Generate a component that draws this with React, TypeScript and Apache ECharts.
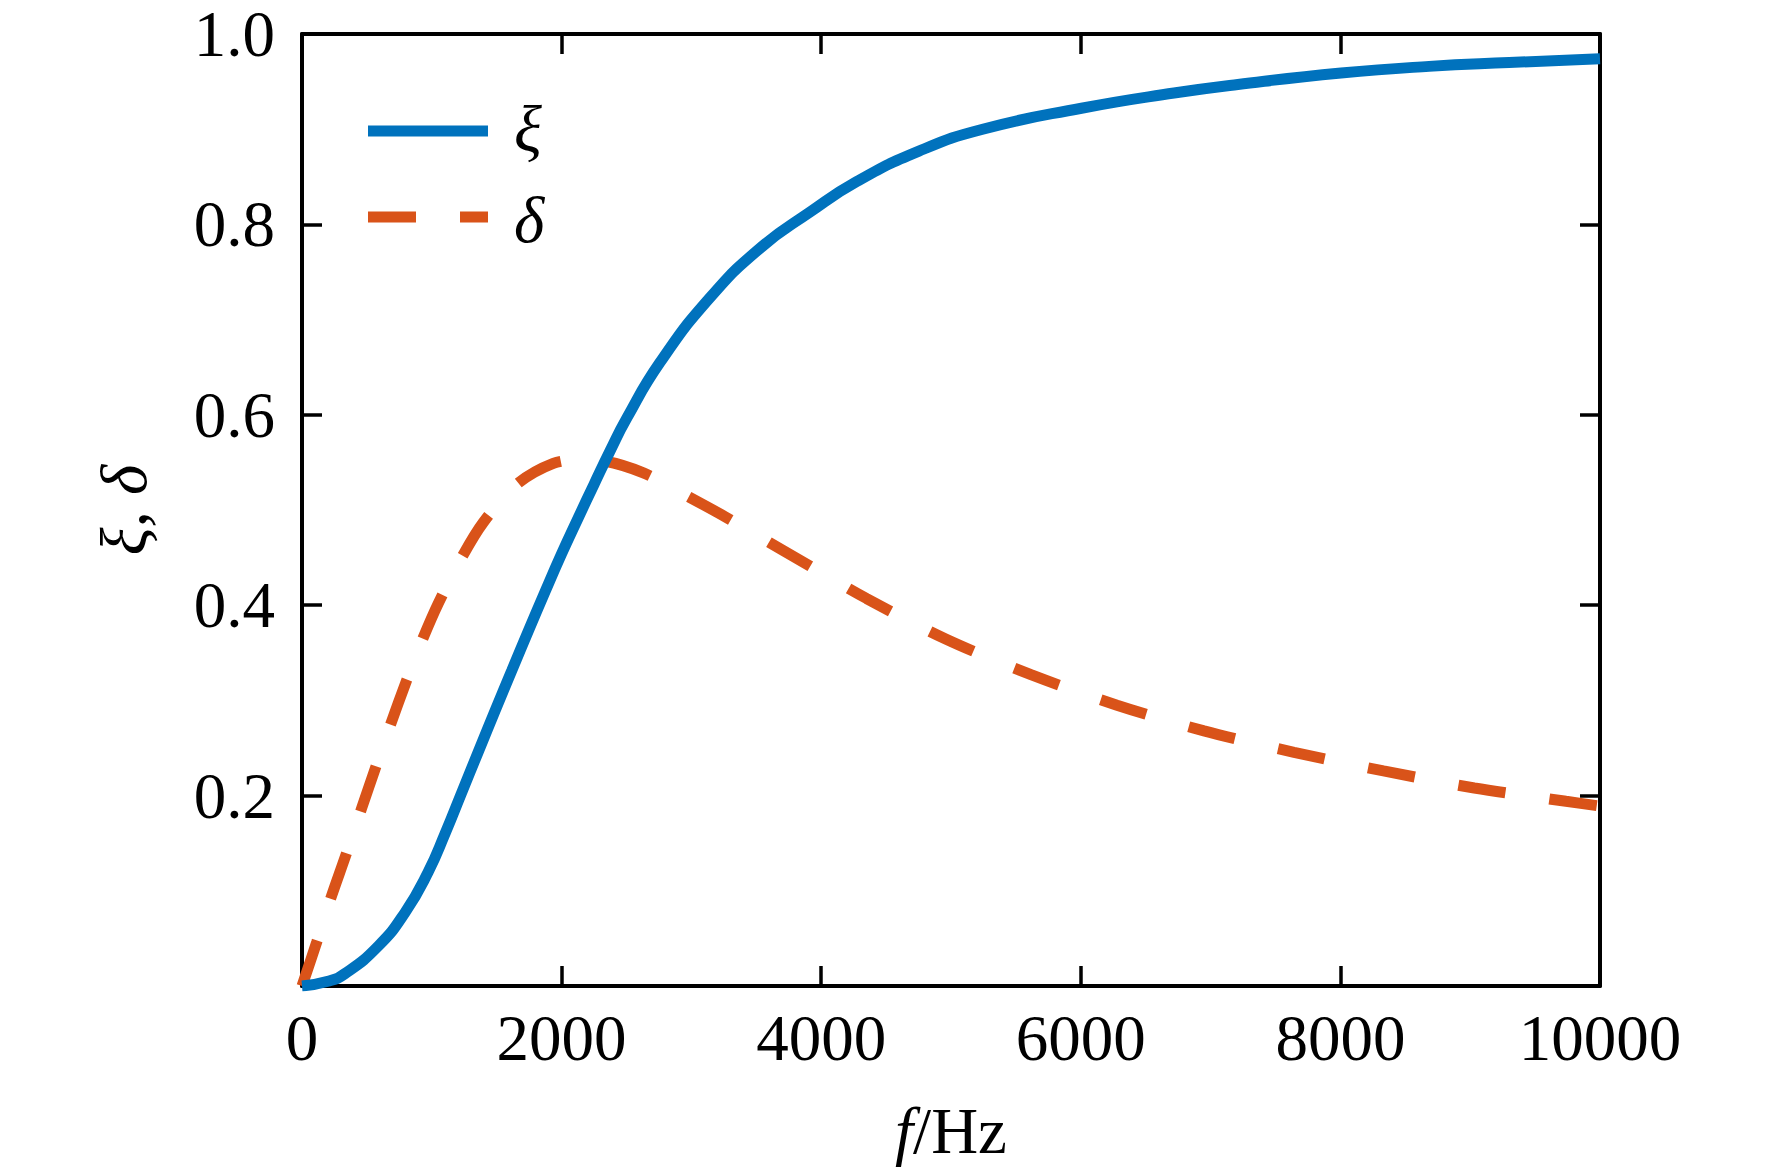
import React, { useEffect, useRef } from 'react';
import * as echarts from 'echarts';

// ξ (xi) curve: frequency (Hz) and value
const xiFreq = [0, 200, 331, 588, 793, 973, 1102, 1230, 1358, 1487, 1615, 1744, 1872, 2000, 2129, 2250, 2373, 2500, 2758, 3143, 3529, 3914, 4274, 4753, 5244, 6005, 6718, 7210, 8005, 8683, 9300, 10000];
const xiVal = [0, 0.005, 0.013, 0.042, 0.077, 0.120, 0.160, 0.203, 0.246, 0.289, 0.331, 0.373, 0.414, 0.454, 0.492, 0.527, 0.562, 0.596, 0.655, 0.723, 0.775, 0.813, 0.845, 0.877, 0.900, 0.922, 0.938, 0.947, 0.959, 0.966, 0.970, 0.974];

// δ (delta) curve: frequency (Hz) and value
const deltaFreq = [0, 113, 216, 344, 460, 563, 678, 806, 922, 1050, 1230, 1397, 1654, 1936, 2150, 2308, 2630, 2950, 3259, 3700, 4350, 4959, 5616, 6279, 6949, 7643, 8332, 9032, 9738, 10000];
const deltaVal = [0, 0.046, 0.090, 0.140, 0.187, 0.228, 0.273, 0.321, 0.362, 0.402, 0.450, 0.487, 0.527, 0.549, 0.553, 0.552, 0.539, 0.516, 0.493, 0.458, 0.407, 0.3645, 0.327, 0.295, 0.268, 0.2455, 0.226, 0.208, 0.194, 0.189];

const xMin = 0;
const xMax = 10000;
const xStep = 2000;
const yMin = 0;
const yMax = 1;
const yStep = 0.2;

const seriesNames = ['ξ', 'δ'];
const xName = '{i|f}/Hz';
const yName = 'ξ, δ';

const FONT = "'Liberation Serif', 'Times New Roman', serif";
const BLUE = '#0072BD';
const ORANGE = '#D95319';

export default function App() {
  const ref = useRef<HTMLDivElement>(null);

  useEffect(() => {
    document.body.style.margin = '0';
    const chart = echarts.init(ref.current as HTMLDivElement, undefined, { renderer: 'svg' });

    const axisBase = {
      type: 'value' as const,
      axisLine: { show: true, onZero: false, lineStyle: { color: '#000', width: 4 } },
      axisTick: { show: true, inside: true, length: 20, lineStyle: { color: '#000', width: 3.5 } },
      splitLine: { show: false },
    };
    const labelStyle = { fontFamily: FONT, fontSize: 65, color: '#000' };

    const option = {
      animation: false,
      backgroundColor: '#ffffff',
      grid: { left: 302, top: 34, right: 172, bottom: 187, containLabel: false },
      xAxis: [
        {
          ...axisBase,
          position: 'bottom',
          min: xMin,
          max: xMax,
          interval: xStep,
          axisLabel: { ...labelStyle, margin: 19, showMinLabel: true, showMaxLabel: true, formatter: (v: number) => String(v) },
          name: xName,
          nameLocation: 'middle',
          nameGap: 112,
          nameTextStyle: {
            ...labelStyle,
            rich: { i: { ...labelStyle, fontStyle: 'italic' } },
          },
        },
        {
          ...axisBase,
          position: 'top',
          min: xMin,
          max: xMax,
          interval: xStep,
          axisLabel: { show: false },
        },
      ],
      yAxis: [
        {
          ...axisBase,
          position: 'left',
          min: yMin,
          max: yMax,
          interval: yStep,
          axisLabel: {
            ...labelStyle,
            lineHeight: 54,
            margin: 27,
            showMaxLabel: true,
            formatter: (v: number) => (Math.abs(v) < 1e-9 ? '' : v.toFixed(1)),
          },
          name: yName,
          nameLocation: 'middle',
          nameGap: 146,
          nameRotate: 90,
          nameTextStyle: { ...labelStyle, fontStyle: 'italic' },
        },
        {
          ...axisBase,
          position: 'right',
          min: yMin,
          max: yMax,
          interval: yStep,
          axisLabel: { show: false },
        },
      ],
      series: [
        {
          name: seriesNames[0],
          type: 'line',
          data: xiFreq.map((f, i) => [f, xiVal[i]]),
          showSymbol: false,
          symbol: 'none',
          smooth: 0.5,
          lineStyle: { color: BLUE, width: 11, type: 'solid' },
          z: 3,
        },
        {
          name: seriesNames[1],
          type: 'line',
          data: deltaFreq.map((f, i) => [f, deltaVal[i]]),
          showSymbol: false,
          symbol: 'none',
          smooth: 0.3,
          lineStyle: { color: ORANGE, width: 11, type: [48, 44], cap: 'butt' },
          z: 2,
        },
      ],
      graphic: [
        {
          type: 'line',
          shape: { x1: 368, y1: 131, x2: 488, y2: 131 },
          style: { stroke: BLUE, lineWidth: 11 },
        },
        {
          type: 'line',
          shape: { x1: 368, y1: 217, x2: 488, y2: 217 },
          style: { stroke: ORANGE, lineWidth: 11, lineDash: [48, 44] },
        },
        {
          type: 'text',
          x: 514,
          y: 129,
          style: { text: seriesNames[0], fontFamily: FONT, fontSize: 65, fontStyle: 'italic', fill: '#000', verticalAlign: 'middle', align: 'left' },
        },
        {
          type: 'text',
          x: 514,
          y: 220,
          style: { text: seriesNames[1], fontFamily: FONT, fontSize: 65, fontStyle: 'italic', fill: '#000', verticalAlign: 'middle', align: 'left' },
        },
      ],
    };

    chart.setOption(option as any);
    return () => chart.dispose();
  }, []);

  return (
    <div
      ref={ref}
      style={{ position: 'fixed', left: 0, top: 0, width: 1772, height: 1173, background: '#fff' }}
    />
  );
}
